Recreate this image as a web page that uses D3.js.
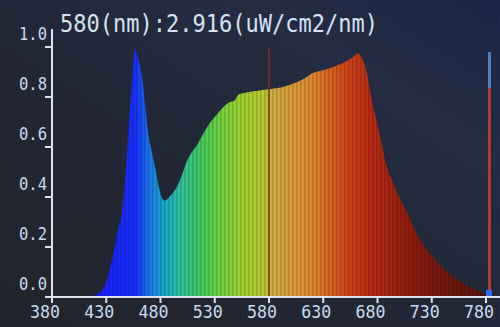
<!DOCTYPE html>
<html>
<head>
<meta charset="utf-8">
<script src="https://d3js.org/d3.v7.min.js"></script>
<style>
    html, body { margin: 0; padding: 0; background: #20263a; }
    svg { display: block; }
</style>
</head>
<body>
<div id="chart"></div>
<script>
const wavelengths = [380, 415, 421, 428, 436, 441, 444.5, 448, 450, 452, 454, 456.5, 459, 463, 466, 468.5, 472, 475, 478, 481, 484, 488, 492, 495, 500, 504, 509, 514, 519, 523, 528, 532, 538, 544, 548, 552, 556, 562, 570, 578, 586, 593, 600, 606, 613, 620, 628, 636, 642, 648, 654, 659, 662, 665, 668, 671, 673, 676, 679.5, 684, 688, 694, 700, 707, 713, 719, 727, 735, 742, 750, 758, 768, 777, 780]
const intensity = [0, 0, 0.01, 0.04, 0.16, 0.27, 0.34, 0.5, 0.63, 0.76, 0.88, 0.99, 0.96, 0.88, 0.76, 0.66, 0.58, 0.52, 0.45, 0.4, 0.385, 0.4, 0.42, 0.44, 0.49, 0.54, 0.58, 0.61, 0.65, 0.68, 0.71, 0.73, 0.76, 0.78, 0.785, 0.81, 0.815, 0.82, 0.825, 0.83, 0.835, 0.84, 0.85, 0.86, 0.875, 0.895, 0.905, 0.915, 0.925, 0.935, 0.95, 0.965, 0.975, 0.96, 0.93, 0.88, 0.83, 0.76, 0.7, 0.61, 0.53, 0.46, 0.4, 0.34, 0.28, 0.23, 0.18, 0.14, 0.11, 0.08, 0.055, 0.035, 0.015, 0.005]

const xTicks = [380, 430, 480, 530, 580, 630, 680, 730, 780]
const yTicks = [0, 0.2, 0.4, 0.6, 0.8, 1.0]

const colorStops = [420, 457, 470, 484, 498, 516, 535, 553, 573, 586, 618, 636, 655, 673, 701, 728, 780]
const colorValues = ["#1c1cff", "#1830f8", "#1a78ea", "#18a8c8", "#30c0a0", "#40c860", "#70d040", "#98d030", "#b8c830", "#d0a840", "#e08a30", "#d86424", "#c84018", "#b82a14", "#9a2010", "#7c1a10", "#5a140c"]

const cursorNm = 580
const readout = "580(nm):2.916(uW/cm2/nm)"

const width = 500, height = 327

const x = d3.scaleLinear().domain([380, 780]).range([52, 486])
const y = d3.scaleLinear().domain([0, 1]).range([297, 47])
const color = d3.scaleLinear().domain(colorStops).range(colorValues)

const svg = d3.select("#chart")
    .append("svg")
        .attr("width", width)
        .attr("height", height)

const defs = svg.append("defs")

const bg = defs.append("linearGradient")
    .attr("id", "bg")
    .attr("x1", 0).attr("y1", 1)
    .attr("x2", 1).attr("y2", 0)
bg.append("stop").attr("offset", 0).attr("stop-color", "#22252c")
bg.append("stop").attr("offset", 0.45).attr("stop-color", "#232838")
bg.append("stop").attr("offset", 0.75).attr("stop-color", "#262d44")
bg.append("stop").attr("offset", 1).attr("stop-color", "#1a2747")

const spec = defs.append("linearGradient")
    .attr("id", "spec")
    .attr("gradientUnits", "userSpaceOnUse")
    .attr("x1", x(380)).attr("y1", 0)
    .attr("x2", x(780)).attr("y2", 0)
spec.selectAll("stop")
    .data(colorStops)
    .enter()
    .append("stop")
        .attr("offset", d => (d - 380) / 400)
        .attr("stop-color", d => color(d))

const stripes = defs.append("pattern")
    .attr("id", "stripes")
    .attr("patternUnits", "userSpaceOnUse")
    .attr("width", 4)
    .attr("height", 10)
stripes.append("rect")
    .attr("x", 0).attr("y", 0)
    .attr("width", 1.5).attr("height", 10)
    .attr("fill", "#000")
    .attr("opacity", 0.16)

svg.append("rect")
    .attr("width", width)
    .attr("height", height)
    .attr("fill", "url(#bg)")

svg.append("rect")
    .attr("width", width)
    .attr("height", height)
    .attr("fill", "url(#stripes)")
    .attr("opacity", 0.4)

const points = wavelengths.map((w, i) => [w, intensity[i]])

const area = d3.area()
    .x(d => x(d[0]))
    .y0(y(0))
    .y1(d => y(d[1]))
    .curve(d3.curveMonotoneX)

svg.append("path")
    .datum(points)
    .attr("d", area)
    .attr("fill", "url(#spec)")

svg.append("path")
    .datum(points)
    .attr("d", area)
    .attr("fill", "url(#stripes)")

// cursor line
svg.append("line")
    .attr("x1", x(cursorNm)).attr("x2", x(cursorNm))
    .attr("y1", 48).attr("y2", y(0))
    .attr("stroke", "#7e2c20")
    .attr("stroke-width", 1.5)

// level bar on the right
svg.append("rect")
    .attr("x", 488).attr("y", 52)
    .attr("width", 3).attr("height", 36)
    .attr("fill", "#4f7fb6")
svg.append("rect")
    .attr("x", 488).attr("y", 88)
    .attr("width", 3).attr("height", y(0) - 88)
    .attr("fill", "#b23a34")
svg.append("rect")
    .attr("x", 486).attr("y", 290)
    .attr("width", 6).attr("height", 8)
    .attr("fill", "#2f6cf0")

const axisColor = "#dbe4f0"
const labelColor = "#c9dcf2"

svg.append("line")
    .attr("x1", x(380)).attr("x2", width)
    .attr("y1", y(0)).attr("y2", y(0))
    .attr("stroke", axisColor)
    .attr("stroke-width", 2)

svg.append("line")
    .attr("x1", x(380)).attr("x2", x(380))
    .attr("y1", 29).attr("y2", y(0))
    .attr("stroke", axisColor)
    .attr("stroke-width", 2)

svg.selectAll("line.ytick")
    .data(yTicks)
    .enter()
    .append("line")
        .attr("class", "ytick")
        .attr("x1", 45).attr("x2", x(380))
        .attr("y1", d => y(d)).attr("y2", d => y(d))
        .attr("stroke", axisColor)
        .attr("stroke-width", 2)

svg.selectAll("text.ylabel")
    .data(yTicks)
    .enter()
    .append("text")
        .attr("class", "ylabel")
        .attr("x", 19)
        .attr("y", d => y(d) - 7)
        .attr("textLength", 28)
        .attr("lengthAdjust", "spacingAndGlyphs")
        .attr("font-family", "DejaVu Sans Mono")
        .attr("font-size", 17)
        .attr("fill", labelColor)
        .text(d => d.toFixed(1))

svg.selectAll("line.xtick")
    .data(xTicks)
    .enter()
    .append("line")
        .attr("class", "xtick")
        .attr("x1", d => x(d)).attr("x2", d => x(d))
        .attr("y1", y(0)).attr("y2", y(0) + 6)
        .attr("stroke", axisColor)
        .attr("stroke-width", 2)

svg.selectAll("text.xlabel")
    .data(xTicks)
    .enter()
    .append("text")
        .attr("class", "xlabel")
        .attr("x", d => x(d) - 22)
        .attr("y", 318)
        .attr("textLength", 30)
        .attr("lengthAdjust", "spacingAndGlyphs")
        .attr("font-family", "DejaVu Sans Mono")
        .attr("font-size", 17)
        .attr("fill", labelColor)
        .text(d => d)

svg.append("text")
    .attr("x", 60)
    .attr("y", 32)
    .attr("textLength", 318)
    .attr("lengthAdjust", "spacingAndGlyphs")
    .attr("font-family", "DejaVu Sans Mono")
    .attr("font-size", 24)
    .attr("fill", "#d3e3f3")
    .text(readout)
</script>
</body>
</html>
